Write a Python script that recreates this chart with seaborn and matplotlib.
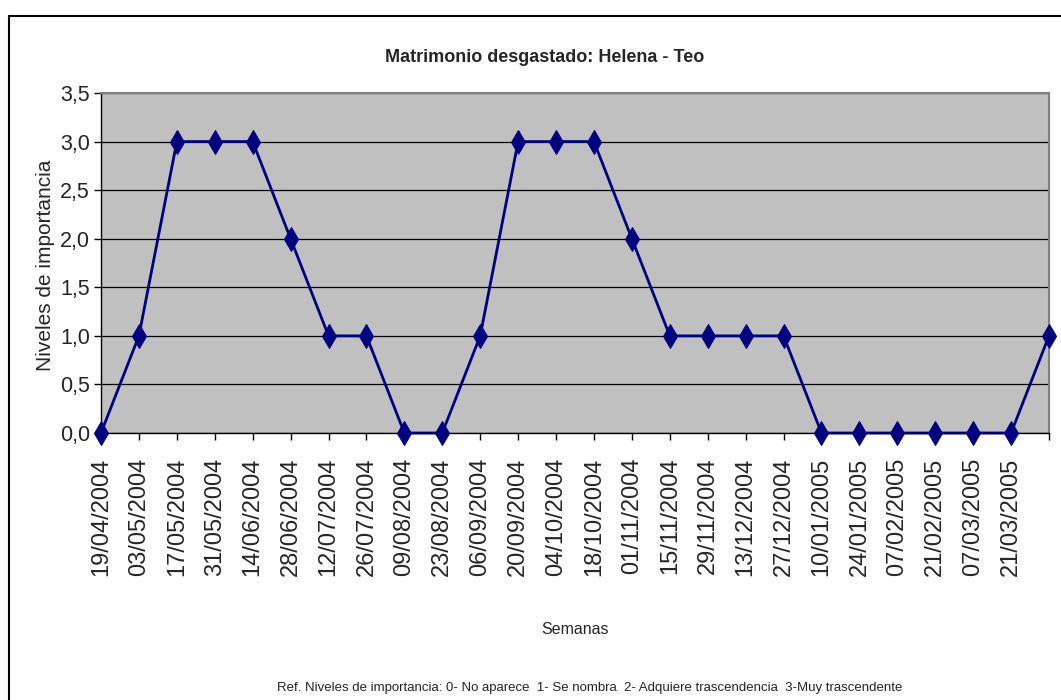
import matplotlib
matplotlib.use("Agg")
import matplotlib.pyplot as plt
import seaborn as sns
import pandas as pd
from matplotlib.lines import Line2D

semanas = [
    "19/04/2004", "03/05/2004", "17/05/2004", "31/05/2004", "14/06/2004",
    "28/06/2004", "12/07/2004", "26/07/2004", "09/08/2004", "23/08/2004",
    "06/09/2004", "20/09/2004", "04/10/2004", "18/10/2004", "01/11/2004",
    "15/11/2004", "29/11/2004", "13/12/2004", "27/12/2004", "10/01/2005",
    "24/01/2005", "07/02/2005", "21/02/2005", "07/03/2005", "21/03/2005",
    "04/04/2005",
]
niveles = [0, 1, 3, 3, 3, 2, 1, 1, 0, 0, 1, 3, 3, 3, 2, 1, 1, 1, 1, 0, 0, 0, 0, 0, 0, 1]
# last tick has no visible label in the original
etiquetas_x = semanas[:-1] + [""]
valores_y = [0, 0.5, 1.0, 1.5, 2.0, 2.5, 3.0, 3.5]
etiquetas_y = ["0,0", "0,5", "1,0", "1,5", "2,0", "2,5", "3,0", "3,5"]

df = pd.DataFrame({"pos": range(len(semanas)), "semana": semanas, "nivel": niveles})

sns.set_style("white")
plt.rcParams["font.family"] = ["Liberation Sans", "DejaVu Sans"]

W, H = 1061, 700
fig = plt.figure(figsize=(W / 100, H / 100), dpi=100)
ax = fig.add_axes([101 / W, 1 - 433 / H, (1049 - 101) / W, (433 - 93) / H])
ax.set_facecolor("#C0C0C0")

sns.lineplot(data=df, x="pos", y="nivel", ax=ax, color="#000080", linewidth=2,
             marker="d", markersize=12.5, markeredgecolor="#000080", zorder=3,
             clip_on=False)

ax.set_xlim(0, len(semanas) - 1)
ax.set_ylim(0, 3.5)
ax.set_yticks(valores_y)
ax.set_yticklabels(etiquetas_y, fontsize=15.5)
ax.set_xticks(df["pos"])
ax.set_xticklabels(etiquetas_x, rotation=90, fontsize=17)
ax.yaxis.grid(True, color="black", linewidth=0.9)
ax.set_axisbelow(True)
ax.tick_params(axis="both", direction="out", length=5, width=1, color="black",
               left=True, bottom=True, pad=3)
ax.tick_params(axis="x", pad=13)

for s in ["top", "right"]:
    ax.spines[s].set_color("#808080")
    ax.spines[s].set_linewidth(1.5)
for s in ["left", "bottom"]:
    ax.spines[s].set_color("black")
    ax.spines[s].set_linewidth(1)

ax.set_xlabel("Semanas", fontsize=11.5)
ax.set_ylabel("Niveles de importancia", fontsize=15)
ax.xaxis.set_label_coords((575 / W), 1 - 630 / H, transform=fig.transFigure)
ax.xaxis.label.set_va("center")
ax.yaxis.set_label_coords(46 / W, 1 - 265 / H, transform=fig.transFigure)
ax.yaxis.label.set_va("center")

fig.text(545 / W, 1 - 58 / H, "Matrimonio desgastado: Helena - Teo",
         ha="center", va="center", fontsize=13, fontweight="bold")
fig.text(590 / W, 1 - 688 / H,
         "Ref. Niveles de importancia: 0- No aparece  1- Se nombra  2- Adquiere trascendencia  3-Muy trascendente",
         ha="center", va="center", fontsize=9.5)

# outer chart frame (top and left edges visible)
fig.add_artist(Line2D([9 / W, 1.0], [1 - 16 / H, 1 - 16 / H],
                      transform=fig.transFigure, color="black", linewidth=1.5))
fig.add_artist(Line2D([9 / W, 9 / W], [0.0, 1 - 16 / H],
                      transform=fig.transFigure, color="black", linewidth=1.5))

fig.savefig("out.png", dpi=100)
